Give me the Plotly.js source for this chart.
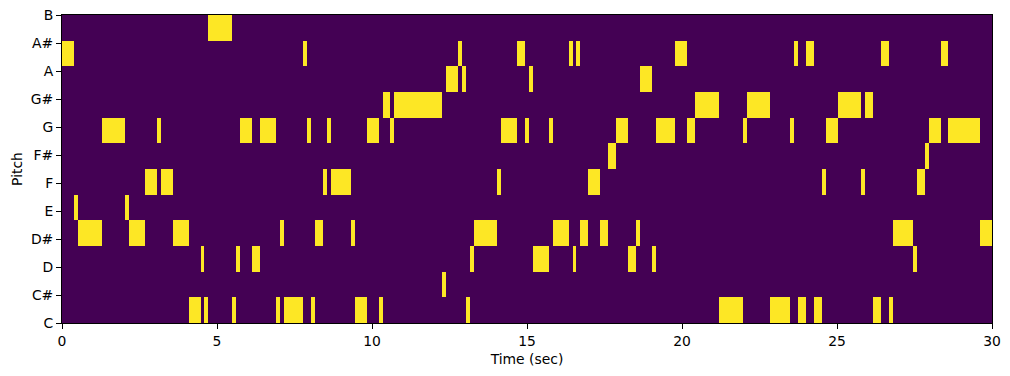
<!DOCTYPE html>
<html>
<head>
<meta charset="utf-8">
<script src="https://cdn.plot.ly/plotly-3.0.1.min.js"></script>
<style>html,body{margin:0;padding:0;background:#fff}#chart{width:1010px;height:376px}</style>
</head>
<body>
<div id="chart"></div>
<script>
// Pitch class labels (bottom to top)
const pitchNames = ["C","C#","D","D#","E","F","F#","G","G#","A","A#","B"];

// Segment boundaries in seconds (beat-synchronous frames)
const segmentEdges = [0, 0.39, 0.52, 1.29, 2.03, 2.16, 2.68, 3.06, 3.19, 3.58, 4.10, 4.48, 4.58, 4.71, 5.47,
  5.61, 5.74, 6.13, 6.39, 6.90, 7.03, 7.16, 7.77, 7.90, 8.03, 8.16, 8.42, 8.55, 8.68, 9.32, 9.45, 9.84,
  10.23, 10.35, 10.58, 10.71, 12.26, 12.39, 12.79, 12.90, 13.03, 13.16, 13.29, 14.03, 14.16, 14.68, 14.94,
  15.06, 15.19, 15.71, 15.84, 16.35, 16.48, 16.58, 16.71, 16.97, 17.35, 17.61, 17.87, 18.26, 18.52, 18.65,
  19.03, 19.16, 19.77, 20.16, 20.42, 21.19, 21.97, 22.10, 22.84, 23.48, 23.61, 23.74, 24.00, 24.26, 24.52,
  24.65, 25.03, 25.77, 25.90, 26.16, 26.42, 26.68, 26.81, 27.45, 27.58, 27.84, 27.97, 28.35, 28.58, 29.61, 30];

// Active (dominant) pitch in each segment
const segmentPitch = ["A#","E","D#","G","E","D#","F","G","F","D#","C","D","C","B","C","D","G","D","G","C",
  "D#","C","A#","G","C","D#","F","G","F","D#","C","G","C","G#","G","G#","C#","A","A#","A","C","D","D#","F",
  "G","A#","G","A","D","G","D#","A#","D","A#","D#","F","D#","F#","G","D","D#","A","D","G","A#","G","G#",
  "C","G","G#","C","G","A#","C","A#","C","F","G","G#","F","G#","C","A#","C","D#","D","F","F#","G","A#",
  "G","D#"];

const xTicks = [0, 5, 10, 15, 20, 25, 30];

// Build binary chroma matrix from the segment lists
const z = pitchNames.map(p => segmentPitch.map(s => (s === p ? 1 : 0)));
const yEdges = pitchNames.map((_, i) => i).concat([pitchNames.length]);
const yTickVals = pitchNames.map((_, i) => i * pitchNames.length / (pitchNames.length - 1));

const font = {family: "DejaVu Sans, sans-serif", size: 13.9, color: "#000"};

Plotly.newPlot("chart", [{
  type: "heatmap",
  x: segmentEdges,
  y: yEdges,
  z: z,
  zmin: 0, zmax: 1,
  colorscale: [[0, "#440154"], [1, "#fde725"]],
  showscale: false,
  hoverinfo: "skip"
}], {
  width: 1010, height: 376,
  margin: {l: 62, r: 18, t: 15, b: 53},
  paper_bgcolor: "#fff", plot_bgcolor: "#440154",
  font: font,
  showlegend: false,
  xaxis: {
    range: [0, 30], tickvals: xTicks, ticktext: xTicks.map(String),
    ticks: "outside", ticklen: 5, tickcolor: "#000", tickwidth: 1,
    showline: true, mirror: true, linecolor: "#000", linewidth: 1,
    showgrid: false, zeroline: false,
    title: {text: "Time (sec)", font: font, standoff: 6},
    tickfont: font
  },
  yaxis: {
    range: [0, 12], tickvals: yTickVals, ticktext: pitchNames,
    ticks: "outside", ticklen: 5, tickcolor: "#000", tickwidth: 1,
    showline: true, mirror: true, linecolor: "#000", linewidth: 1,
    showgrid: false, zeroline: false,
    title: {text: "Pitch", font: font, standoff: 4},
    tickfont: font
  }
}, {displayModeBar: false, staticPlot: true});
</script>
</body>
</html>
